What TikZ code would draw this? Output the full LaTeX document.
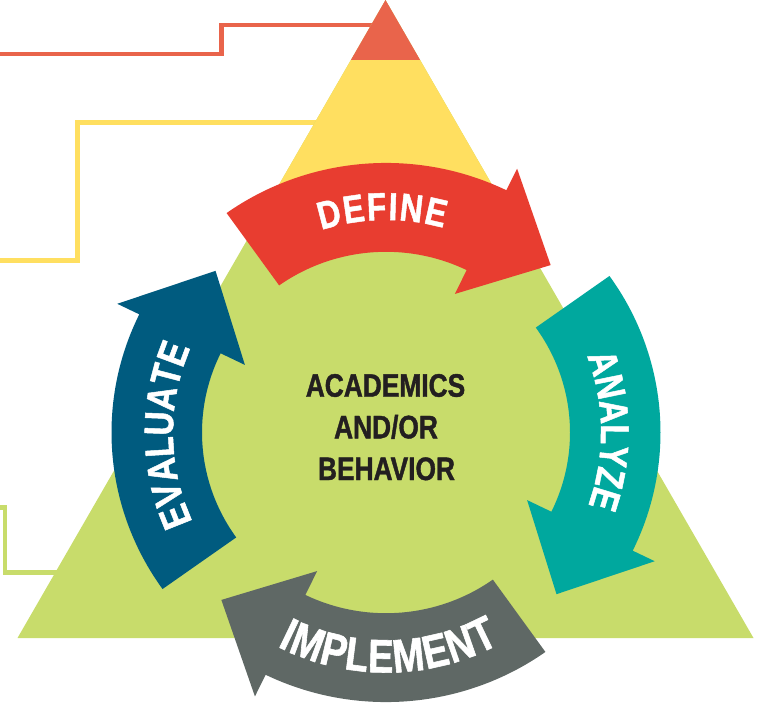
\documentclass[tikz,border=0pt]{standalone}
\usepackage{fontspec}
\newfontfamily\condbold[FakeStretch=0.81,FakeBold=1.2]{Liberation Sans Bold}
\definecolor{tipred}{HTML}{E9644B}
\definecolor{yellowc}{HTML}{FFDF60}
\definecolor{greenc}{HTML}{C8DC6B}
\definecolor{definec}{HTML}{E83D30}
\definecolor{analyzec}{HTML}{00A89E}
\definecolor{implementc}{HTML}{5F6865}
\definecolor{evaluatec}{HTML}{005B7F}
\definecolor{darktext}{HTML}{231F20}
\newcommand\fCenter{\condbold\fontsize{32.5pt}{32.5pt}\selectfont}
\newcommand\fDefine{\condbold\fontsize{39pt}{39pt}\selectfont}
\newcommand\fAnalyze{\condbold\fontsize{40pt}{40pt}\selectfont}
\newcommand\fEvaluate{\condbold\fontsize{41pt}{41pt}\selectfont}
\newcommand\fImplement{\condbold\fontsize{47pt}{47pt}\selectfont}
\newdimen\arcS
\newdimen\arcTot
\newdimen\arcW
\newcommand\measureL[2]{\pgfinterruptpicture\setbox0\hbox{#1#2}\global\arcW=\wd0\relax\endpgfinterruptpicture}
% #1 name prefix, #2 centre angle, #3 baseline radius, #4 direction (1 cw/tops out, -1 ccw/tops in), #5 font, #6 tracking, #7 letters
\newcommand\arctext[7]{%
  \global\arcTot=0pt
  \foreach \L in {#7}{\measureL{#5}{\L}\global\advance\arcTot by \arcW\relax\global\advance\arcTot by #6pt\relax}%
  \global\advance\arcTot by -#6pt\relax
  \global\arcS=-0.5\arcTot
  \foreach \L [count=\i] in {#7}{%
    \measureL{#5}{\L}%
    \pgfmathsetmacro\ang{#2-(#4)*(\the\arcS+0.5*\the\arcW)/#3*180/pi}%
    \pgfmathsetmacro\rot{\ang-(#4)*90}%
    \node[lbl,font=#5,rotate=\rot,anchor=base] (#1\i) at (\ang:#3pt) {\L};%
    \global\advance\arcS by \arcW\relax
    \global\advance\arcS by #6pt\relax
  }%
}
\newcommand\cyclearrow[2]{%
  \pgfmathsetmacro\thS{#2-61.5}%
  \pgfmathsetmacro\thT{#2-79.5}%
  \fill[#1] (#2:274.5pt) arc[start angle=#2,end angle=\thS,radius=274.5pt]
    -- (\thS:299pt) -- (\thT:237pt) -- (\thS:157pt) -- (\thS:184pt)
    arc[start angle=\thS,end angle=#2,radius=184pt] -- cycle;}
\begin{document}
\begin{tikzpicture}[x=1pt,y=1pt,
  lbl/.style={text=white,inner sep=0pt,outer sep=0pt},
  ctext/.style={text=darktext,inner sep=0pt,font=\fCenter,anchor=base},
  tierline/.style={line width=4.7pt}]
\useasboundingbox (0,0) rectangle (757,-704);
% tier lines
\draw[tierline,draw=tipred] (0,-54) -- (221.5,-54) -- (221.5,-25) -- (385,-25);
\draw[tierline,draw=yellowc] (0,-260.5) -- (77.5,-260.5) -- (77.5,-122.5) -- (340,-122.5);
\draw[tierline,draw=greenc] (0,-507.5) -- (5,-507.5) -- (5,-572.5) -- (80,-572.5);
% triangle
\fill[greenc] (385.5,0) -- (17.5,-638) -- (753.5,-638) -- cycle;
\begin{scope}
  \clip (385.5,0) -- (17.5,-638) -- (753.5,-638) -- cycle;
  \fill[yellowc] (0,-60) rectangle (757,-235);
  \fill[tipred] (0,1) rectangle (757,-60);
\end{scope}
% cycle arrows
\begin{scope}[shift={(386,-432.5)},yscale=0.982]
  \cyclearrow{definec}{125.5}
  \cyclearrow{analyzec}{35.5}
  \cyclearrow{implementc}{-54.5}
  \cyclearrow{evaluatec}{-144.5}
\end{scope}
% labels
\begin{scope}[shift={(386,-432.5)}]
  \arctext{d}{91}{212.5}{1}{\fDefine}{1.6}{D,E,F,I,N,E}
  \arctext{a}{0.5}{215}{1}{\fAnalyze}{0}{A,N,A,L,Y,Z,E}
  \arctext{e}{180.7}{213}{1}{\fEvaluate}{0}{E,V,A,L,U,A,T,E}
  \arctext{i}{-89.3}{240}{-1}{\fImplement}{0.9}{I,M,P,L,E,M,E,N,T}
\end{scope}
% centre text
\node[ctext] (c1) at (385.5,-396.7) {ACADEMICS};
\node[ctext] (c2) at (386,-438.3) {AND/OR};
\node[ctext] (c3) at (386.5,-480) {BEHAVIOR};
\end{tikzpicture}
\end{document}
